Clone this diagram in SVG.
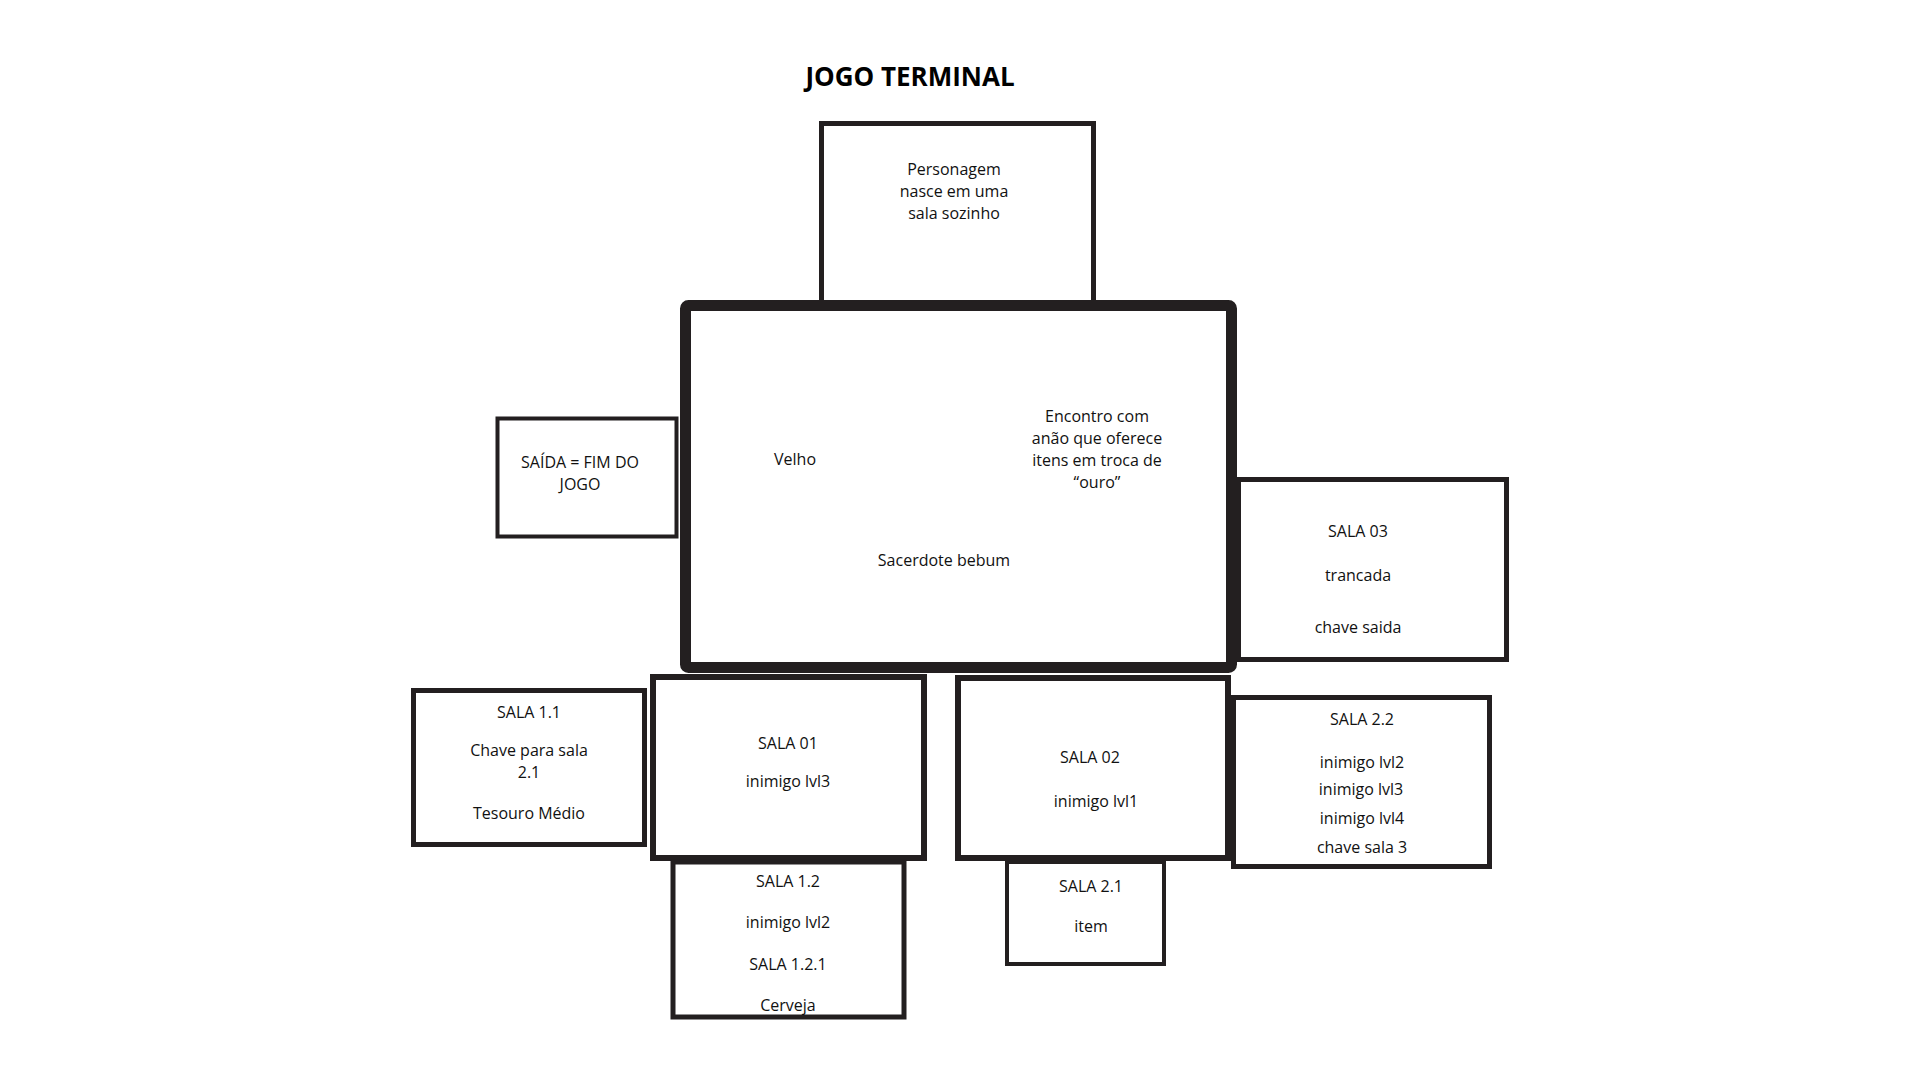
<svg xmlns="http://www.w3.org/2000/svg" width="1920" height="1080" viewBox="0 0 1920 1080">
<style>
.box{fill:#fff;stroke:#231f20;stroke-width:5}
.main{fill:#fff;stroke:#231f20;stroke-width:11}
.t{font-family:"Open Sans","Noto Sans","Liberation Sans",sans-serif;font-size:16px;fill:#111;text-anchor:middle}
.title{font-family:"Open Sans","Noto Sans","Liberation Sans",sans-serif;font-size:26px;font-weight:bold;fill:#000;text-anchor:middle}
</style>
<rect width="1920" height="1080" fill="#fff"/>
<text class="title" x="910" y="86">JOGO TERMINAL</text>
<g id="connectors"></g>
<g id="inicio">
<rect class="box" x="821.5" y="123.5" width="272" height="180"/>
<text class="t" x="954" y="175">Personagem</text>
<text class="t" x="954" y="197">nasce em uma</text>
<text class="t" x="954" y="219">sala sozinho</text>
</g>
<g id="sala-principal">
<rect class="main" x="685.5" y="305.5" width="546" height="362" rx="3"/>
<text class="t" x="795" y="465">Velho</text>
<text class="t" x="1097" y="422">Encontro com</text>
<text class="t" x="1097" y="444">anão que oferece</text>
<text class="t" x="1097" y="466">itens em troca de</text>
<text class="t" x="1097" y="488">“ouro”</text>
<text class="t" x="944" y="566">Sacerdote bebum</text>
</g>
<g id="saida">
<rect class="box" x="497.5" y="418.5" width="179" height="118" style="stroke-width:4"/>
<text class="t" x="580" y="468">SAÍDA = FIM DO</text>
<text class="t" x="580" y="490">JOGO</text>
</g>
<g id="sala-03">
<rect class="box" x="1238.5" y="479.5" width="268" height="180"/>
<text class="t" x="1358" y="537">SALA 03</text>
<text class="t" x="1358" y="581">trancada</text>
<text class="t" x="1358" y="633">chave saida</text>
</g>
<g id="sala-1-1">
<rect class="box" x="413.5" y="690.5" width="231" height="154"/>
<text class="t" x="529" y="718">SALA 1.1</text>
<text class="t" x="529" y="756">Chave para sala</text>
<text class="t" x="529" y="778">2.1</text>
<text class="t" x="529" y="819">Tesouro Médio</text>
</g>
<g id="sala-01">
<rect class="box" x="653" y="677" width="271" height="181" style="stroke-width:6"/>
<text class="t" x="788" y="749">SALA 01</text>
<text class="t" x="788" y="787">inimigo lvl3</text>
</g>
<g id="sala-1-2">
<rect class="box" x="673" y="862" width="231" height="155"/>
<text class="t" x="788" y="887">SALA 1.2</text>
<text class="t" x="788" y="928">inimigo lvl2</text>
<text class="t" x="788" y="970">SALA 1.2.1</text>
<text class="t" x="788" y="1011">Cerveja</text>
</g>
<g id="sala-02">
<rect class="box" x="958" y="678" width="270" height="180" style="stroke-width:6"/>
<text class="t" x="1090" y="763">SALA 02</text>
<text class="t" x="1096" y="807">inimigo lvl1</text>
</g>
<g id="sala-2-1">
<rect class="box" x="1007" y="862" width="157" height="102" style="stroke-width:4"/>
<text class="t" x="1091" y="892">SALA 2.1</text>
<text class="t" x="1091" y="932">item</text>
</g>
<g id="sala-2-2">
<rect class="box" x="1233.5" y="697.5" width="256" height="169"/>
<text class="t" x="1362" y="725">SALA 2.2</text>
<text class="t" x="1362" y="768">inimigo lvl2</text>
<text class="t" x="1361" y="795">inimigo lvl3</text>
<text class="t" x="1362" y="824">inimigo lvl4</text>
<text class="t" x="1362" y="853">chave sala 3</text>
</g>
</svg>
